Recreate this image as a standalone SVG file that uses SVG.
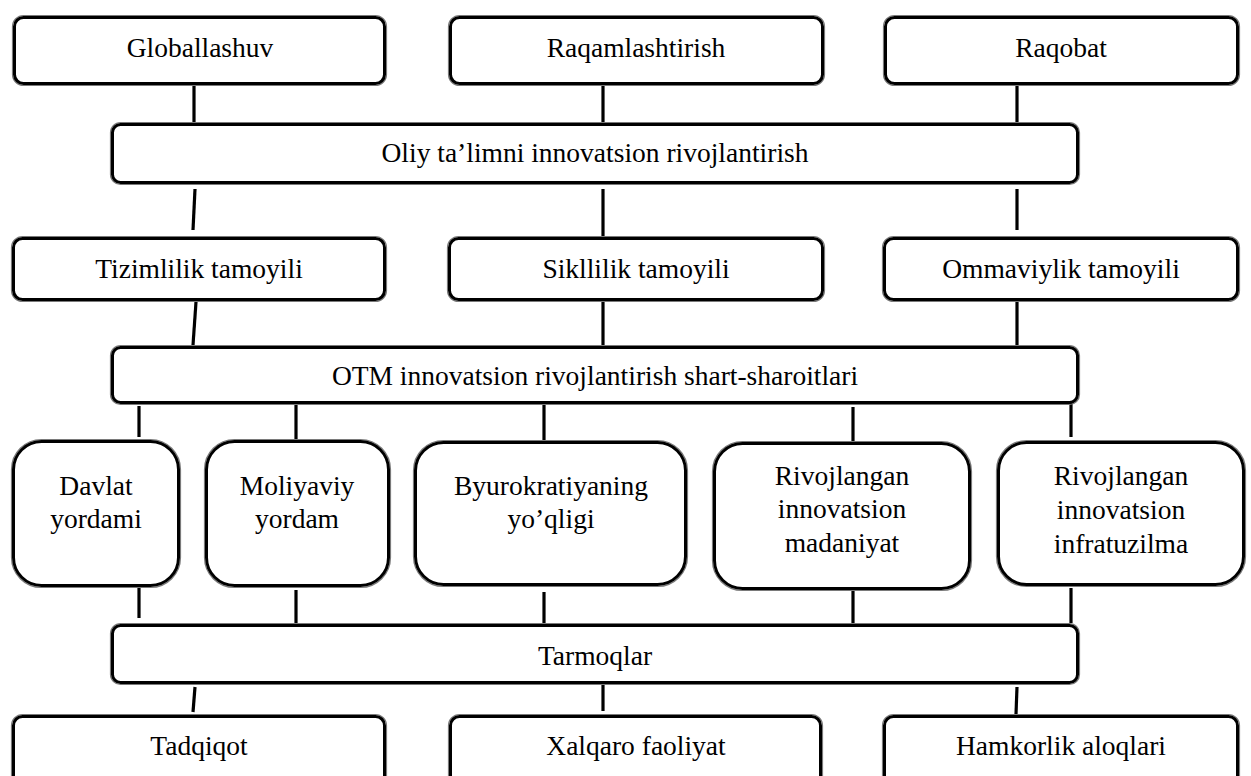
<svg xmlns="http://www.w3.org/2000/svg" width="1251" height="776" viewBox="0 0 1251 776">
<style>
.o{fill:none;stroke:#7a7a7a;stroke-width:1.2}
.b{fill:#fff;stroke:#000;stroke-width:3}
.t{font-family:"Liberation Serif","Times New Roman",serif;font-size:27.5px;fill:#000;text-anchor:middle}
.c line{stroke:#000;stroke-width:3.2}
</style>
<rect width="1251" height="776" fill="#fff"/>
<g class="c" id="connectors">
<line x1="194" y1="86" x2="194" y2="123"/>
<line x1="603" y1="86" x2="603" y2="123"/>
<line x1="1017" y1="86" x2="1017" y2="123"/>
<line x1="195" y1="189" x2="193" y2="230"/>
<line x1="603" y1="189" x2="603" y2="237"/>
<line x1="1017" y1="189" x2="1017" y2="230"/>
<line x1="196" y1="302" x2="193" y2="345"/>
<line x1="603" y1="302" x2="603" y2="345"/>
<line x1="1017" y1="302" x2="1017" y2="345"/>
<line x1="139" y1="406" x2="139" y2="437"/>
<line x1="296" y1="405" x2="296" y2="440"/>
<line x1="544" y1="405" x2="544" y2="441"/>
<line x1="853" y1="407" x2="853" y2="441"/>
<line x1="1071" y1="403" x2="1071" y2="437"/>
<line x1="139" y1="588" x2="139" y2="618"/>
<line x1="296" y1="590" x2="296" y2="623"/>
<line x1="544" y1="592" x2="544" y2="623"/>
<line x1="853" y1="588" x2="853" y2="623"/>
<line x1="1071" y1="588" x2="1071" y2="623"/>
<line x1="195" y1="687" x2="193" y2="712"/>
<line x1="603" y1="685" x2="603" y2="711"/>
<line x1="1017" y1="687" x2="1016" y2="714"/>
</g>
<g id="globallashuv">
<rect class="o" x="12.5" y="15.5" width="374" height="70" rx="11"/>
<rect class="b" x="14.5" y="17.5" width="370" height="66" rx="9"/>
<text class="t" x="200" y="57">Globallashuv</text>
</g>
<g id="raqamlashtirish">
<rect class="o" x="448.5" y="15.5" width="376" height="70" rx="11"/>
<rect class="b" x="450.5" y="17.5" width="372" height="66" rx="9"/>
<text class="t" x="636" y="57">Raqamlashtirish</text>
</g>
<g id="raqobat">
<rect class="o" x="883.5" y="15.5" width="356" height="70" rx="11"/>
<rect class="b" x="885.5" y="17.5" width="352" height="66" rx="9"/>
<text class="t" x="1061" y="57">Raqobat</text>
</g>
<g id="oliy">
<rect class="o" x="110.5" y="122.5" width="969" height="62" rx="10"/>
<rect class="b" x="112.5" y="124.5" width="965" height="58" rx="8"/>
<text class="t" x="595" y="162">Oliy ta’limni innovatsion rivojlantirish</text>
</g>
<g id="tizimlilik">
<rect class="o" x="11.5" y="236.5" width="375" height="65" rx="11"/>
<rect class="b" x="13.5" y="238.5" width="371" height="61" rx="9"/>
<text class="t" x="199" y="278">Tizimlilik tamoyili</text>
</g>
<g id="sikllilik">
<rect class="o" x="447.5" y="236.5" width="377" height="65" rx="11"/>
<rect class="b" x="449.5" y="238.5" width="373" height="61" rx="9"/>
<text class="t" x="636" y="278">Sikllilik tamoyili</text>
</g>
<g id="ommaviylik">
<rect class="o" x="882.5" y="236.5" width="357" height="65" rx="11"/>
<rect class="b" x="884.5" y="238.5" width="353" height="61" rx="9"/>
<text class="t" x="1061" y="278">Ommaviylik tamoyili</text>
</g>
<g id="otm">
<rect class="o" x="110.5" y="345.5" width="969" height="59" rx="10"/>
<rect class="b" x="112.5" y="347.5" width="965" height="55" rx="8"/>
<text class="t" x="595" y="385">OTM innovatsion rivojlantirish shart-sharoitlari</text>
</g>
<g id="davlat">
<rect class="o" x="11.5" y="439.5" width="169" height="148" rx="30"/>
<rect class="b" x="13.5" y="441.5" width="165" height="144" rx="28"/>
<text class="t" x="96" y="495">Davlat</text>
<text class="t" x="96" y="528">yordami</text>
</g>
<g id="moliyaviy">
<rect class="o" x="204.5" y="439.5" width="186" height="148" rx="30"/>
<rect class="b" x="206.5" y="441.5" width="182" height="144" rx="28"/>
<text class="t" x="297" y="495">Moliyaviy</text>
<text class="t" x="297" y="528">yordam</text>
</g>
<g id="byurokratiya">
<rect class="o" x="413.5" y="440.5" width="274" height="146" rx="30"/>
<rect class="b" x="415.5" y="442.5" width="270" height="142" rx="28"/>
<text class="t" x="551" y="495">Byurokratiyaning</text>
<text class="t" x="551" y="528">yo’qligi</text>
</g>
<g id="madaniyat">
<rect class="o" x="712.5" y="441.5" width="259" height="149" rx="30"/>
<rect class="b" x="714.5" y="443.5" width="255" height="145" rx="28"/>
<text class="t" x="842" y="485">Rivojlangan</text>
<text class="t" x="842" y="518">innovatsion</text>
<text class="t" x="842" y="552">madaniyat</text>
</g>
<g id="infratuzilma">
<rect class="o" x="996.5" y="440.5" width="249" height="146" rx="30"/>
<rect class="b" x="998.5" y="442.5" width="245" height="142" rx="28"/>
<text class="t" x="1121" y="485">Rivojlangan</text>
<text class="t" x="1121" y="519">innovatsion</text>
<text class="t" x="1121" y="553">infratuzilma</text>
</g>
<g id="tarmoqlar">
<rect class="o" x="110.5" y="623.5" width="969" height="61" rx="10"/>
<rect class="b" x="112.5" y="625.5" width="965" height="57" rx="8"/>
<text class="t" x="595" y="665">Tarmoqlar</text>
</g>
<g id="tadqiqot">
<rect class="o" x="11.5" y="714.5" width="375" height="90" rx="11"/>
<rect class="b" x="13.5" y="716.5" width="371" height="86" rx="9"/>
<text class="t" x="199" y="755">Tadqiqot</text>
</g>
<g id="xalqaro">
<rect class="o" x="448.5" y="714.5" width="374" height="90" rx="11"/>
<rect class="b" x="450.5" y="716.5" width="370" height="86" rx="9"/>
<text class="t" x="636" y="755">Xalqaro faoliyat</text>
</g>
<g id="hamkorlik">
<rect class="o" x="882.5" y="714.5" width="357" height="90" rx="11"/>
<rect class="b" x="884.5" y="716.5" width="353" height="86" rx="9"/>
<text class="t" x="1061" y="755">Hamkorlik aloqlari</text>
</g>
</svg>
